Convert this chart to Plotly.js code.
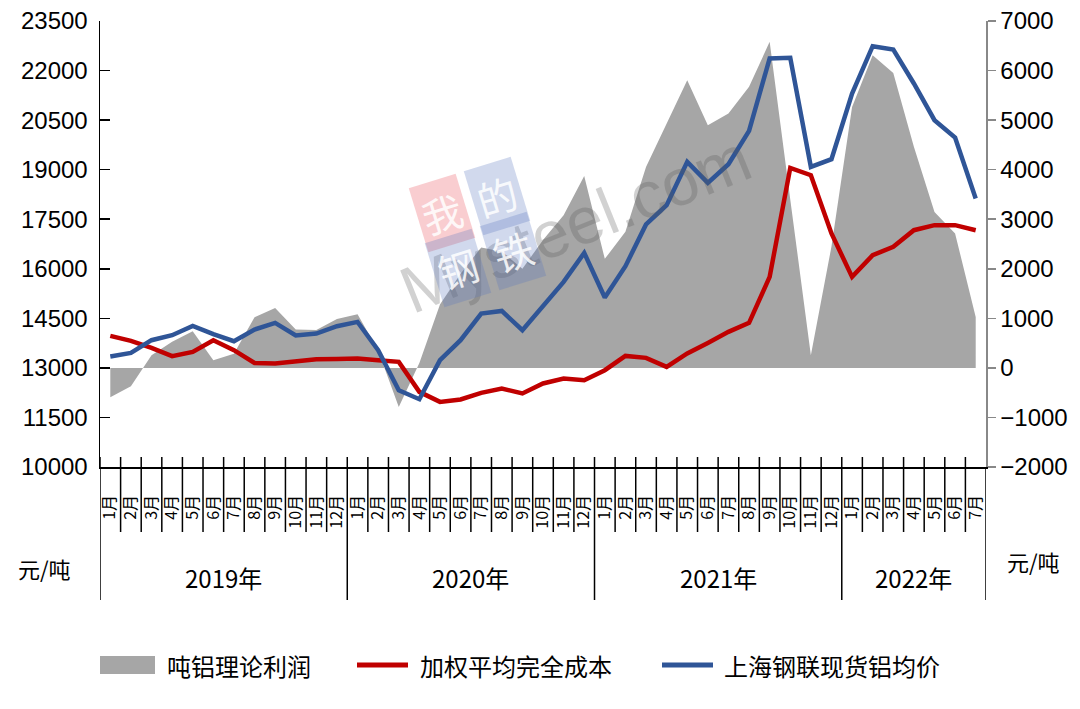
<!DOCTYPE html>
<html>
<head>
<meta charset="utf-8">
<script src="https://cdn.plot.ly/plotly-3.0.1.min.js"></script>
<style>html,body{margin:0;padding:0;background:#fff;}#chart{width:1080px;height:709px;}</style>
</head>
<body>
<div id="chart"></div>
<script>
// ---- data ----
const years = ["2019年", "2020年", "2021年", "2022年"];
const monthsPerYear = [12, 12, 12, 7];
const monthLabels = [
  "1月","2月","3月","4月","5月","6月","7月","8月","9月","10月","11月","12月",
  "1月","2月","3月","4月","5月","6月","7月","8月","9月","10月","11月","12月",
  "1月","2月","3月","4月","5月","6月","7月","8月","9月","10月","11月","12月",
  "1月","2月","3月","4月","5月","6月","7月"
];
const profit = [
  -590,-369,256,525,740,155,285,1020,1210,775,765,985,
  1080,350,-790,100,1280,1900,2430,2350,2000,2580,3080,3870,
  2200,2745,4056,4932,5806,4898,5134,5671,6579,3400,256,2450,
  5267,6310,5953,4460,3148,2712,1029
];
const cost = [
  13969,13817,13605,13354,13484,13838,13536,13151,13131,13182,13263,13272,
  13285,13233,13182,12274,11971,12044,12244,12376,12225,12528,12679,12628,
  12930,13363,13303,13030,13436,13757,14090,14362,15755,19054,18833,17068,
  15755,16411,16663,17168,17320,17320,17168
];
const price = [
  13345,13454,13838,13990,14271,14020,13808,14162,14362,13981,14041,14262,
  14392,13536,12325,12052,13233,13838,14646,14725,14141,14847,15603,16481,
  15131,16078,17341,17925,19236,18600,19166,20174,22366,22384,19085,19318,
  21306,22738,22638,21609,20498,19974,18128
];
const seriesNames = ["吨铝理论利润", "加权平均完全成本", "上海钢联现货铝均价"];
const unitLabel = "元/吨";

// ---- layout geometry ----
const W = 1080, H = 709;
const M = {l: 100, r: 94, t: 21, b: 242};
const PW = W - M.l - M.r, PH = H - M.t - M.b;
const px2x = p => (p - M.l) / PW;          // pixel x -> paper x
const py2y = p => (H - M.b - p) / PH;      // pixel y -> paper y

const idx = monthLabels.map((_, i) => i);
const N = monthLabels.length;

const CJK = '"Noto Sans CJK SC", "Liberation Sans", Arial, sans-serif';
const NUM = '"Liberation Sans", Arial, "Noto Sans CJK SC", sans-serif';

const traces = [
  {x: idx, y: profit, type: 'scatter', mode: 'lines', name: seriesNames[0],
   fill: 'tozeroy', fillcolor: '#a6a6a6', line: {width: 0, color: 'rgba(0,0,0,0)'},
   yaxis: 'y', hoverinfo: 'y'},
  {x: idx, y: cost, type: 'scatter', mode: 'lines', name: seriesNames[1],
   line: {color: '#c00000', width: 4.5}, yaxis: 'y2'},
  {x: idx, y: price, type: 'scatter', mode: 'lines', name: seriesNames[2],
   line: {color: '#2f5597', width: 4.5}, yaxis: 'y2'}
];

const shapes = [];
const annotations = [];

// category boundary ticks and year separators
let boundaries = [0];
let acc = 0;
monthsPerYear.forEach(n => { acc += n; boundaries.push(acc); });
for (let k = 0; k <= N; k++) {
  const isYear = boundaries.includes(k);
  if (k === N) continue;
  shapes.push({type: 'line', xref: 'x', yref: 'paper',
    x0: k - 0.5, x1: k - 0.5, y0: py2y(457), y1: py2y(isYear ? 600 : 532),
    line: {color: '#000', width: 1.5}, layer: 'above'});
}
// right-most year separator
shapes.push({type: 'line', xref: 'x', yref: 'paper',
  x0: N - 0.5, x1: N - 0.5, y0: 0, y1: py2y(600),
  line: {color: '#000', width: 1.5}, layer: 'above'});

// year labels
for (let j = 0; j < years.length; j++) {
  const a = boundaries[j] - 0.5, b = boundaries[j + 1] - 0.5;
  annotations.push({xref: 'x', yref: 'paper', x: (a + b) / 2, y: py2y(577),
    text: years[j], showarrow: false, xanchor: 'center', yanchor: 'middle',
    font: {family: CJK, size: 24, color: '#000'}});
}

// unit labels
annotations.push({xref: 'paper', yref: 'paper', x: px2x(44), y: py2y(568), text: unitLabel,
  showarrow: false, xanchor: 'center', yanchor: 'middle', font: {family: CJK, size: 22, color: '#000'}});
annotations.push({xref: 'paper', yref: 'paper', x: px2x(1033), y: py2y(561), text: unitLabel,
  showarrow: false, xanchor: 'center', yanchor: 'middle', font: {family: CJK, size: 22, color: '#000'}});

// custom legend
const legY = 665;
shapes.push({type: 'rect', xref: 'paper', yref: 'paper', x0: px2x(100), x1: px2x(155),
  y0: py2y(674), y1: py2y(656), fillcolor: '#a6a6a6', line: {width: 0}});
shapes.push({type: 'line', xref: 'paper', yref: 'paper', x0: px2x(357), x1: px2x(408),
  y0: py2y(legY), y1: py2y(legY), line: {color: '#c00000', width: 5}});
shapes.push({type: 'line', xref: 'paper', yref: 'paper', x0: px2x(662), x1: px2x(713),
  y0: py2y(legY), y1: py2y(legY), line: {color: '#2f5597', width: 5}});
[[165, 0], [418, 1], [722, 2]].forEach(([p, i]) => {
  annotations.push({xref: 'paper', yref: 'paper', x: px2x(p), y: py2y(legY), text: seriesNames[i],
    showarrow: false, xanchor: 'left', yanchor: 'middle', font: {family: CJK, size: 24, color: '#000'}});
});

// watermark
annotations.push({xref: 'paper', yref: 'paper', x: px2x(575), y: py2y(330), text: 'Mysteel.com',
  showarrow: false, textangle: -22, font: {family: NUM, size: 66, color: 'rgba(90,90,90,0.28)'}});
const wm = [["我", 442, 213, 'rgba(235,90,100,0.30)'], ["的", 497, 196, 'rgba(90,120,190,0.28)'],
            ["钢", 458, 268, 'rgba(90,120,190,0.28)'], ["铁", 513, 251, 'rgba(90,120,190,0.28)']];
wm.forEach(([t, x, y, c]) => {
  annotations.push({xref: 'paper', yref: 'paper', x: px2x(x), y: py2y(y), text: t, showarrow: false,
    textangle: -17, bgcolor: c, borderpad: 4, font: {family: CJK, size: 40, color: 'rgba(255,255,255,0.85)'}});
});

const layout = {
  width: W, height: H,
  margin: M,
  paper_bgcolor: '#fff', plot_bgcolor: 'rgba(0,0,0,0)',
  showlegend: false,
  font: {family: NUM, color: '#000'},
  xaxis: {
    range: [-0.5, N - 0.5], tickmode: 'array', tickvals: idx, ticktext: monthLabels,
    tickangle: -90, ticks: '', showline: true, linecolor: '#000', linewidth: 1.5,
    showgrid: false, zeroline: false, ticklabelstandoff: 20,
    tickfont: {family: CJK, size: 16, color: '#000'}, fixedrange: true
  },
  yaxis: {
    side: 'right', range: [-2000, 7000], tickmode: 'linear', tick0: -2000, dtick: 1000,
    ticks: 'outside', ticklen: 8, tickcolor: '#888', tickwidth: 1.5,
    showline: true, linecolor: '#888', linewidth: 1.5,
    showgrid: false, zeroline: false, tickformat: 'd',
    tickfont: {family: NUM, size: 24, color: '#000'}
  },
  yaxis2: {
    overlaying: 'y', side: 'left', range: [10000, 23500], tickmode: 'linear', tick0: 10000, dtick: 1500,
    ticks: 'inside', ticklen: 10, tickcolor: '#000', tickwidth: 1.5,
    showline: true, linecolor: '#000', linewidth: 1.5,
    showgrid: false, zeroline: false, tickformat: 'd', ticklabelstandoff: 6,
    tickfont: {family: NUM, size: 24, color: '#000'}
  },
  shapes: shapes,
  annotations: annotations
};

Plotly.newPlot('chart', traces, layout, {displayModeBar: false, staticPlot: true});
</script>
</body>
</html>
